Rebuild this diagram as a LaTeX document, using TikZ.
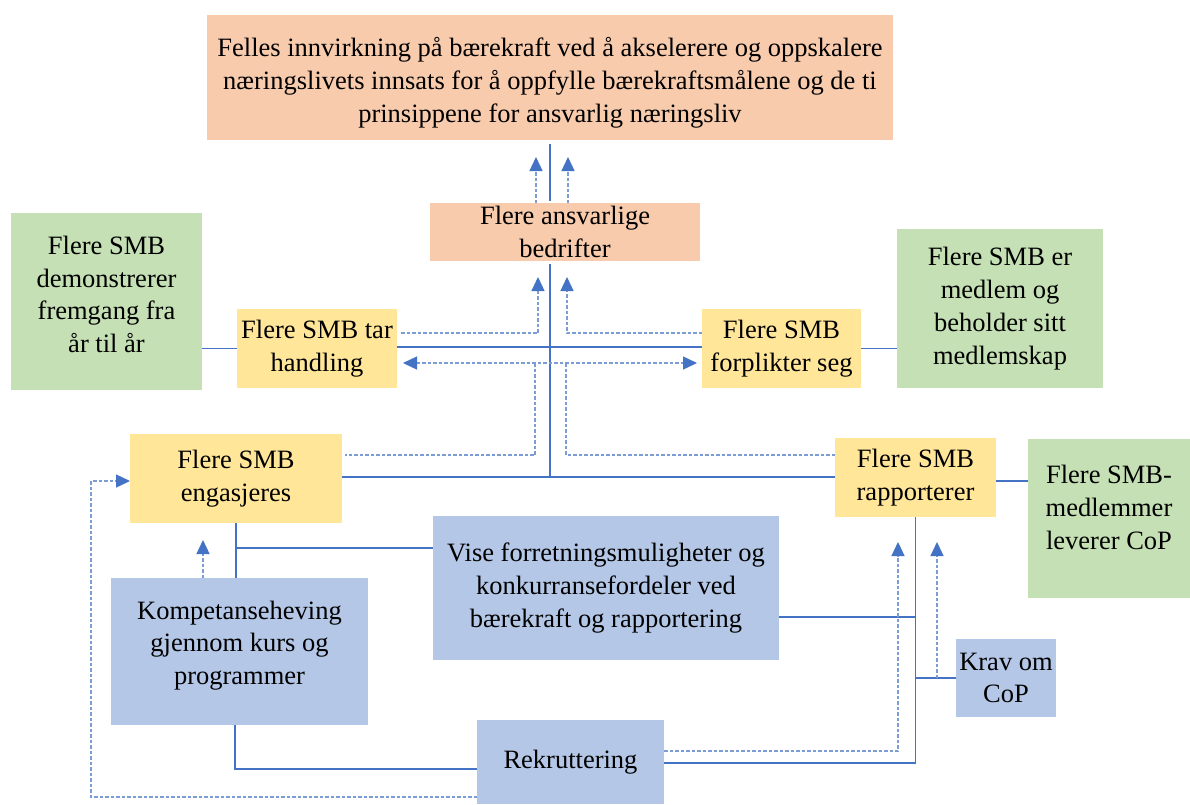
\documentclass[tikz,border=0pt]{standalone}
\usepackage{fontspec}
\setmainfont{Liberation Serif}
\usetikzlibrary{arrows.meta,calc,backgrounds}
\definecolor{salmon}{HTML}{F8CBAD}
\definecolor{gold}{HTML}{FFE699}
\definecolor{lgreen}{HTML}{C5E0B4}
\definecolor{lblue}{HTML}{B4C7E7}
\definecolor{lineblue}{HTML}{4472C4}
\begin{document}
\begin{tikzpicture}[x=1pt,y=-1pt,
  box/.style={inner sep=0pt, outer sep=0pt, align=center, text=black,
    font=\fontsize{26.5}{32.8}\selectfont},
  solidline/.style={draw=lineblue, line width=1.8pt},
  thinline/.style={draw=lineblue, line width=1.3pt},
  dashline/.style={draw=lineblue!70, line width=1.3pt, dash pattern=on 3.5pt off 2pt},
  arr/.style={-{Triangle[length=14pt,width=13pt,color=lineblue]}},
  darr/.style={{Triangle[length=14pt,width=13pt,color=lineblue]}-{Triangle[length=14pt,width=13pt,color=lineblue]}}]
\useasboundingbox[fill=white] (0,0) rectangle (1190,804);

% nodes
\node[box,fill=salmon,minimum width=686pt,minimum height=125pt,
  label={[box,yshift=-5pt]center:{Felles innvirkning på bærekraft ved å akselerere og oppskalere\\næringslivets innsats for å oppfylle bærekraftsmålene og de ti\\prinsippene for ansvarlig næringsliv}}] (top) at (550,77.5) {};
\node[box,fill=salmon,minimum width=270pt,minimum height=58pt] (bedrifter) at (565,232)
  {Flere ansvarlige\\bedrifter};
\node[box,fill=gold,minimum width=160pt,minimum height=79pt] (tar) at (317,348.5)
  {Flere SMB tar\\handling};
\node[box,fill=gold,minimum width=159pt,minimum height=79pt] (forplikter) at (781.5,348.5)
  {Flere SMB\\forplikter seg};
\node[box,fill=lgreen,minimum width=191pt,minimum height=177pt,
  label={[box,yshift=7pt]center:{Flere SMB\\demonstrerer\\fremgang fra\\år til år}}] (greenL) at (106.5,301.5) {};
\node[box,fill=lgreen,minimum width=206pt,minimum height=159pt] (greenR) at (1000,308.5)
  {Flere SMB er\\medlem og\\beholder sitt\\medlemskap};
\node[box,fill=gold,minimum width=212pt,minimum height=89pt] (engasjeres) at (236,478.5)
  {Flere SMB\\engasjeres};
\node[box,fill=gold,minimum width=161pt,minimum height=79pt] (rapporterer) at (915.5,477.5)
  {Flere SMB\\rapporterer};
\node[box,fill=lgreen,minimum width=162pt,minimum height=159pt,
  label={[box,yshift=11pt]center:{Flere SMB-\\medlemmer\\leverer CoP}}] (greenR2) at (1109,518.5) {};
\node[box,fill=lblue,minimum width=346pt,minimum height=144pt] (vise) at (606,588)
  {Vise forretningsmuligheter og\\konkurransefordeler ved\\bærekraft og rapportering};
\node[box,fill=lblue,minimum width=257pt,minimum height=147pt,
  label={[box,yshift=6pt]center:{Kompetanseheving\\gjennom kurs og\\programmer}}] (kompetanse) at (239.5,651.5) {};
\node[box,fill=lblue,minimum width=100pt,minimum height=78pt] (krav) at (1006,678)
  {Krav om\\CoP};
\node[box,fill=lblue,minimum width=187pt,minimum height=84pt] (rekrut) at (570.5,762)
  {Rekruttering};

% line behind Vise box
\begin{scope}[on background layer]
\draw[dashline,darr] ($(engasjeres.south east)+(16,-3)$) -- ($(rapporterer.south west)+(-3,3)$);
\end{scope}

% top connection
\draw[solidline] ($(top.south)+(0,4)$) -- ($(top.south |- bedrifter.north)+(0,-2)$);
\draw[dashline,arr] ($(bedrifter.north)+(-29,0)$) -- ($(top.south)+(-14,17)$);
\draw[dashline,arr] ($(bedrifter.north)+(3,0)$) -- ($(top.south)+(18,17)$);

% hub lines
\coordinate (hub) at (550,477);
\coordinate (mid) at (550,347);
\draw[solidline] (engasjeres.east |- hub) -- (rapporterer.west |- hub);
\draw[solidline] (hub) -- ($(hub |- bedrifter.south)+(0,3)$);
\draw[solidline] (tar.east |- mid) -- (forplikter.west |- mid);

% dashed arrows to bedrifter
\draw[dashline,arr] ([xshift=4pt,yshift=15.5pt]tar.east) -| ($(bedrifter.south)+(-27,16)$);
\draw[dashline,arr] ([yshift=15.5pt]forplikter.west) -| ($(bedrifter.south)+(2,16)$);

% double arrow between tar and forplikter
\draw[dashline,darr] ([xshift=6pt,yshift=-14.5pt]tar.east)
  -- ([xshift=-5pt,yshift=-14.5pt]forplikter.west);
\coordinate (dl) at (535,363);
\coordinate (dr) at (566,363);
\draw[dashline] (dl) |- ([xshift=3pt,yshift=23.5pt]engasjeres.east);
\draw[dashline] (dr) |- ([yshift=22.5pt]rapporterer.west);

% green links
\draw[thinline] (greenL.east |- tar.west) -- (tar.west);
\draw[thinline] (forplikter.east) -- (greenR.west |- forplikter.east);
\draw[thinline] ([yshift=-3.5pt]rapporterer.east) coordinate (re) -- (greenR2.west |- re);

% engasjeres bottom
\draw[solidline] (engasjeres.south) -- (engasjeres.south |- kompetanse.north);
\draw[solidline] ($(engasjeres.south)+(0,25)$) coordinate (ej) -- (vise.west |- ej);
\draw[dashline,arr] ($(kompetanse.north)+(-36.5,0)$) -- ($(engasjeres.south)+(-33,17)$);

% rapporterer bottom
\draw[solidline] (rapporterer.south) |- ([yshift=-1pt]rekrut.east);
\draw[solidline] ([yshift=-29pt]vise.east) coordinate (ve) -- (ve -| rapporterer.south);
\draw[solidline] (krav.west) -- (krav.west -| rapporterer.south);
\draw[dashline,arr] ($(krav.west)+(-19,0)$) -- ($(rapporterer.south)+(21.5,25)$);
\draw[dashline,arr] ([yshift=11pt]rekrut.east) -| ($(rapporterer.south)+(-17.5,25)$);

% kompetanse to rekruttering
\draw[solidline] ($(kompetanse.south)+(-4.5,0)$) |- ([yshift=-7pt]rekrut.west);
\draw[dashline,arr] ([yshift=-35pt]rekrut.west) -| ($(engasjeres.west)+(-39,2.5)$) -- ($(engasjeres.west)+(0,2.5)$);
\end{tikzpicture}
\end{document}
